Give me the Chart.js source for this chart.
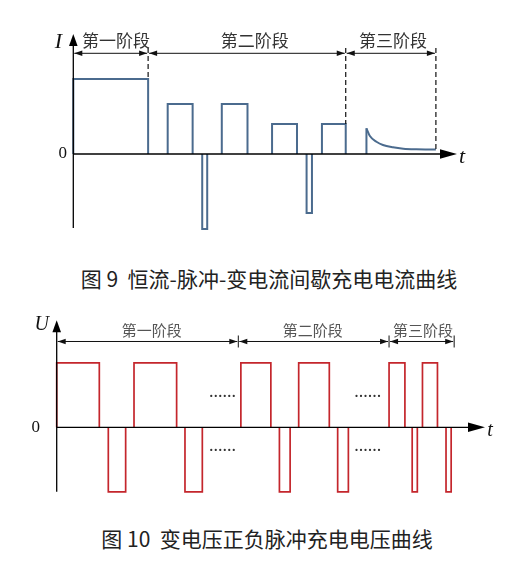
<!DOCTYPE html>
<html>
<head>
<meta charset="utf-8">
<script src="https://cdn.jsdelivr.net/npm/chart.js@4.4.1/dist/chart.umd.min.js"></script>
<style>
  body { margin: 0; background: #fff; width: 524px; height: 572px; position: relative; overflow: hidden; }
  canvas { position: absolute; left: 0; }
  #c1 { top: 0; }
  #c2 { top: 300px; }
  .cap { position: absolute; width: 524px; text-align: center; font-family: "Noto Sans CJK SC"; font-size: 21px;
         line-height: 24px; color: #222; white-space: pre; }
</style>
</head>
<body>
<canvas id="c1" width="524" height="250"></canvas>
<div class="cap" style="top:266px; left:7px">图 9  恒流-脉冲-变电流间歇充电电流曲线</div>
<canvas id="c2" width="524" height="215"></canvas>
<div class="cap" style="top:526px; left:5px">图 10  变电压正负脉冲充电电压曲线</div>

<script>
// 图9 — 电流曲线 (t: 0..100, I in arbitrary units)
const currentPulseStart = [0, 24.6, 33.6, 38.7, 51.8, 60.8, 64.8];
const currentPulseEnd   = [19.5, 31.1, 34.9, 45.4, 58.3, 62.2, 71.0];
const currentPulseLevel = [75, 50, -75, 50, 30, -59, 30];
const currentTailT = [76.4, 77.3, 79.0, 80.7, 83.3, 86.0, 89.4, 94.5];
const currentTailI = [25.7, 18, 12.3, 9, 6.7, 5.3, 4.7, 4.5];
const currentStageBounds = [0, 19.5, 71.0, 94.5];
const currentStageEdge = [null, 75, 30, 4.5];
const currentStageLabels = ['第一阶段', '第二阶段', '第三阶段'];
const currentLabelX = [11.1, 47.3, 83.3];

// 图10 — 电压曲线 (t: 0..100, U = ±1)
const voltagePulseStart = [0, 12.05, 18.05, 29.95, 43.0, 52.0, 56.5, 65.6, 77.6, 83.0, 85.4, 90.9];
const voltagePulseEnd   = [9.95, 16.1, 28.0, 34.0, 50.0, 54.5, 63.65, 68.1, 81.3, 84.2, 88.9, 92.1];
const voltagePulseLevel = [1, -1, 1, -1, 1, -1, 1, -1, 1, -1, 1, -1];
const voltageStageBounds = [0, 42.4, 77.6, 92.8];
const voltageStageLabels = ['第一阶段', '第二阶段', '第三阶段'];
const voltageLabelX = [22.2, 59.8, 85.5];
const voltageDotsX = [38.7, 72.6];
const voltageDotsY = [0.55, -0.29];

// rectangular pulses -> separate segments, zero line comes from the axis
function pulsePoints(starts, ends, levels) {
  const pts = [];
  starts.forEach((s, i) => {
    const e = ends[i], l = levels[i];
    pts.push({ x: s, y: 0 }, { x: s, y: l }, { x: e, y: l }, { x: e, y: 0 }, { x: e, y: null });
  });
  return pts;
}

function arrowHead(ctx, x, y, dir, len, half) {
  ctx.beginPath();
  ctx.moveTo(x, y);
  if (dir === 'up') { ctx.lineTo(x - half, y + len); ctx.lineTo(x + half, y + len); }
  if (dir === 'right') { ctx.lineTo(x - len, y - half); ctx.lineTo(x - len, y + half); }
  if (dir === 'left') { ctx.lineTo(x + len, y - half); ctx.lineTo(x + len, y + half); }
  ctx.closePath();
  ctx.fill();
}

// axes, stage arrows, labels
const decorPlugin = {
  id: 'decor',
  afterDatasetsDraw(chart) {
    const d = chart.config.options._decor;
    if (!d) return;
    const { ctx } = chart;
    const X = (v) => chart.scales.x.getPixelForValue(v);
    const Y = (v) => chart.scales.y.getPixelForValue(v);
    const x0 = X(0), y0 = Y(0);

    ctx.save();
    ctx.strokeStyle = '#000';
    ctx.fillStyle = '#000';
    ctx.lineWidth = 1.3;

    // y axis + arrow
    ctx.beginPath();
    ctx.moveTo(x0, Y(d.axisBottom));
    ctx.lineTo(x0, Y(d.axisTop) + 6);
    ctx.stroke();
    arrowHead(ctx, x0, Y(d.axisTop), 'up', 12, 4.3);

    // t axis + arrow
    ctx.beginPath();
    ctx.moveTo(x0, y0);
    ctx.lineTo(X(d.axisRight) - 8, y0);
    ctx.stroke();
    arrowHead(ctx, X(d.axisRight), y0, 'right', 17, 4.8);

    // stage arrows
    const sy = Y(d.stageY);
    ctx.lineWidth = 1;
    ctx.strokeStyle = '#111';
    ctx.fillStyle = '#111';
    for (let i = 0; i < d.bounds.length - 1; i++) {
      const a = X(d.bounds[i]) + 1, b = X(d.bounds[i + 1]) - 1;
      ctx.beginPath();
      ctx.moveTo(a, sy);
      ctx.lineTo(b, sy);
      ctx.stroke();
      arrowHead(ctx, a, sy, 'left', 8, 2.8);
      arrowHead(ctx, b, sy, 'right', 8, 2.8);
    }

    // boundary markers
    for (let i = 1; i < d.bounds.length; i++) {
      const bx = X(d.bounds[i]);
      ctx.beginPath();
      if (d.edges) {
        ctx.setLineDash([5, 3]);
        ctx.lineWidth = 1.2;
        ctx.moveTo(bx, Y(d.dashTop));
        ctx.lineTo(bx, Y(d.edges[i]));
      } else {
        ctx.setLineDash([]);
        ctx.lineWidth = 1;
        ctx.moveTo(bx, sy - 6);
        ctx.lineTo(bx, sy + 6);
      }
      ctx.stroke();
    }
    ctx.setLineDash([]);

    // stage labels
    ctx.textAlign = 'center';
    ctx.textBaseline = 'middle';
    ctx.font = d.labelFont;
    ctx.fillStyle = d.labelColor;
    d.labels.forEach((txt, i) => ctx.fillText(txt, X(d.labelX[i]), Y(d.labelY)));

    // axis names
    ctx.fillStyle = '#111';
    ctx.font = d.nameFont;
    ctx.fillText(d.yName, x0 + d.yNameDx, Y(d.yNameY));
    ctx.fillText('t', X(d.axisRight) + d.tDx, y0 + 3);
    ctx.font = '17px "Liberation Serif"';
    ctx.fillText('0', x0 + d.zeroDx, y0);

    // ...... marks
    if (d.dotsX) {
      ctx.font = '18px "Liberation Serif"';
      ctx.fillStyle = '#333';
      d.dotsX.forEach((dx) => d.dotsY.forEach((dy) => ctx.fillText('......', X(dx), Y(dy))));
    }
    ctx.restore();
  },
};

function makeChart(id, datasets, yMin, yMax, padding, decor) {
  return new Chart(document.getElementById(id), {
    type: 'line',
    plugins: [decorPlugin],
    data: { datasets },
    options: {
      responsive: false,
      animation: false,
      devicePixelRatio: 1,
      events: [],
      layout: { padding },
      _decor: decor,
      plugins: { legend: { display: false }, tooltip: { enabled: false } },
      scales: {
        x: { type: 'linear', min: 0, max: 100, display: false },
        y: { type: 'linear', min: yMin, max: yMax, display: false },
      },
    },
  });
}

const blue = '#4b6b8e';
const red = '#c4262c';

makeChart('c1', [
  {
    data: pulsePoints(currentPulseStart, currentPulseEnd, currentPulseLevel)
      .concat([{ x: currentTailT[0], y: 0 }, { x: currentTailT[0], y: currentTailI[0] }]),
    borderColor: blue, borderWidth: 2, pointRadius: 0, tension: 0, spanGaps: false, clip: false,
  },
  {
    data: currentTailT.map((t, i) => ({ x: t, y: currentTailI[i] })),
    borderColor: blue, borderWidth: 2, pointRadius: 0, cubicInterpolationMode: 'monotone', clip: false,
  },
], -80, 125, { left: 73.3, right: 67, top: 29, bottom: 16 }, {
  axisBottom: -74, axisTop: 120, axisRight: 100,
  stageY: 100.7, dashTop: 106,
  bounds: currentStageBounds, edges: currentStageEdge,
  labels: currentStageLabels, labelX: currentLabelX, labelY: 113,
  labelFont: '17px "Noto Sans CJK SC"', labelColor: '#333',
  yName: 'I', yNameDx: -15, yNameY: 112, nameFont: 'italic 22px "Liberation Serif"',
  tDx: 5, zeroDx: -10.6,
});

makeChart('c2', [
  {
    data: pulsePoints(voltagePulseStart, voltagePulseEnd, voltagePulseLevel),
    borderColor: red, borderWidth: 1.7, pointRadius: 0, tension: 0, spanGaps: false, clip: false,
  },
], -1.15, 1.75, { left: 56.7, right: 39, top: 14.4, bottom: 13.5 }, {
  axisBottom: -1.0, axisTop: 1.66, axisRight: 100,
  stageY: 1.33,
  bounds: voltageStageBounds, edges: null,
  labels: voltageStageLabels, labelX: voltageLabelX, labelY: 1.51,
  labelFont: '15px "Noto Sans CJK SC"', labelColor: '#555',
  yName: 'U', yNameDx: -15, yNameY: 1.59, nameFont: 'italic 20px "Liberation Serif"',
  tDx: 5, zeroDx: -21,
  dotsX: voltageDotsX, dotsY: voltageDotsY,
});
</script>
</body>
</html>
